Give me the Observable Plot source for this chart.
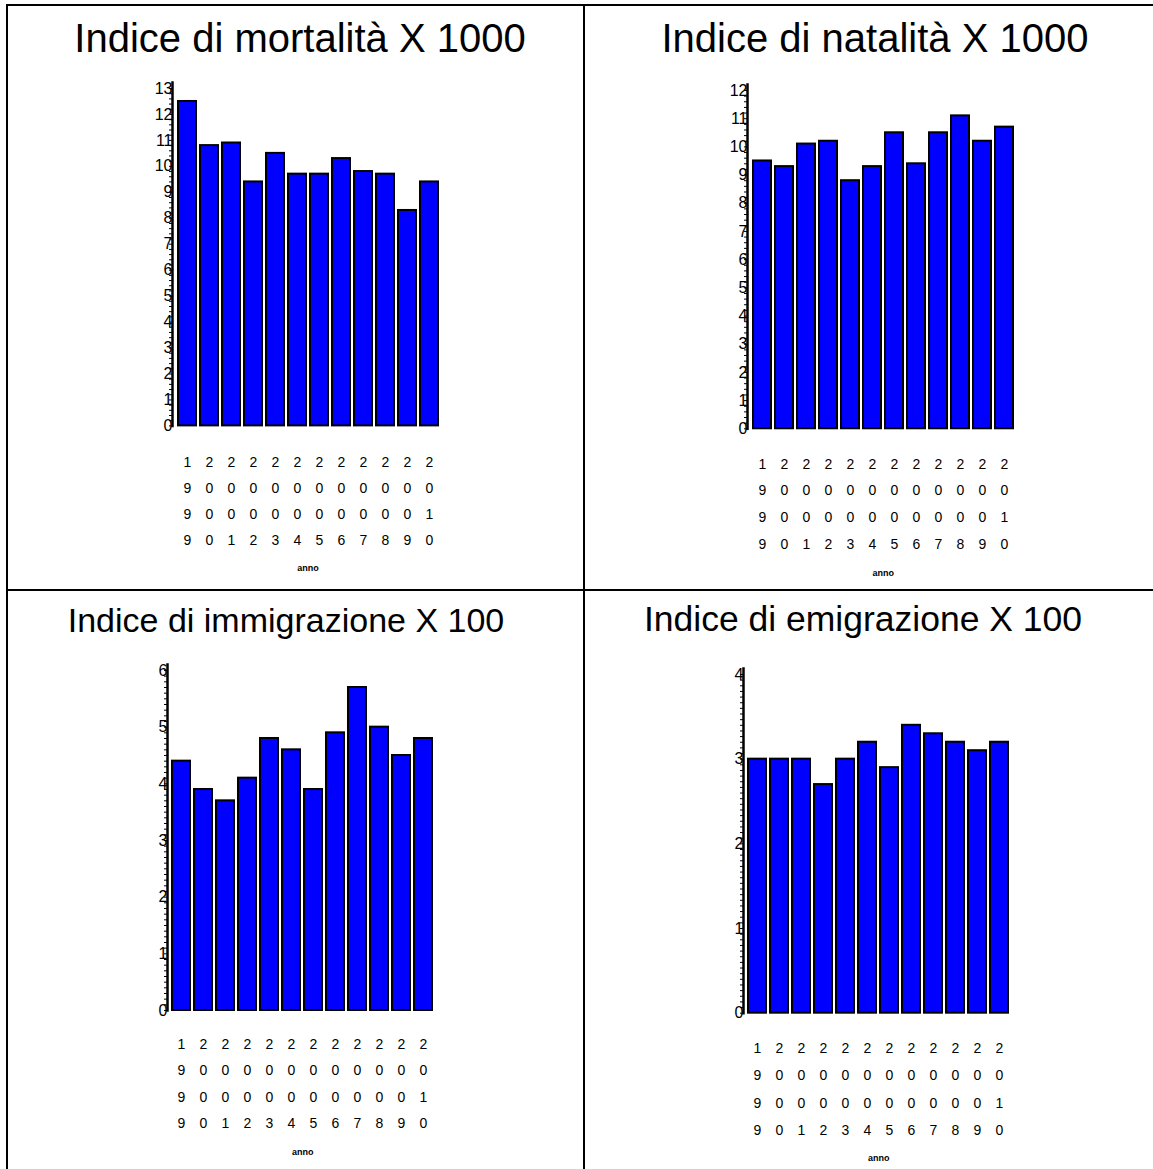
<!DOCTYPE html>
<html>
<head>
<meta charset="utf-8">
<script src="https://cdn.jsdelivr.net/npm/d3@7"></script>
<script src="https://cdn.jsdelivr.net/npm/@observablehq/plot@0.6"></script>
<style>
  html, body { margin: 0; padding: 0; background: #fff; }
  #page { position: relative; width: 1153px; height: 1169px; overflow: hidden; background: #fff;
          font-family: "Liberation Sans", Arial, sans-serif; color: #000; }
  .line { position: absolute; background: #000; }
  .title { position: absolute; white-space: nowrap; line-height: 1; transform: translate(-50%, -50%); }
  .panel { position: absolute; }
</style>
</head>
<body>
<div id="page"></div>
<script>
// ---- data ----
const years = ["1999","2000","2001","2002","2003","2004","2005","2006","2007","2008","2009","2010"];
const mortalita    = [12.5, 10.8, 10.9, 9.4, 10.5, 9.7, 9.7, 10.3, 9.8, 9.7, 8.3, 9.4];
const natalita     = [9.5, 9.3, 10.1, 10.2, 8.8, 9.3, 10.5, 9.4, 10.5, 11.1, 10.2, 10.7];
const immigrazione = [4.4, 3.9, 3.7, 4.1, 4.8, 4.6, 3.9, 4.9, 5.7, 5.0, 4.5, 4.8];
const emigrazione  = [3.0, 3.0, 3.0, 2.7, 3.0, 3.2, 2.9, 3.4, 3.3, 3.2, 3.1, 3.2];
const titles = ["Indice di mortalità X 1000", "Indice di natalità X 1000",
                "Indice di immigrazione X 100", "Indice di emigrazione X 100"];
const yMax = [13, 12, 6, 4];
const xLabel = "anno";

// ---- layout ----
const page = document.getElementById("page");
function line(x, y, w, h) {
  const d = document.createElement("div");
  d.className = "line";
  Object.assign(d.style, {left: x + "px", top: y + "px", width: w + "px", height: h + "px"});
  page.appendChild(d);
}
line(6, 4, 1147, 2);     // top border
line(6, 4, 2, 1165);     // left border
line(583, 4, 2, 1165);   // middle vertical
line(6, 589, 1147, 2);   // middle horizontal

const layouts = [
  {values: mortalita,    tx: 300, ty: 38,  ts: 40,   plotLeft: 171.7, plotRight: 442.7, yTop: 88.3, yZero: 425.7, step: 0.2,    row1: 461.7, rowGap: 25.8, annoY: 568},
  {values: natalita,     tx: 875, ty: 38,  ts: 40,   plotLeft: 746.7, plotRight: 1018.3, yTop: 90,  yZero: 428.3, step: 0.2,    row1: 462,   rowGap: 26.8, annoY: 573},
  {values: immigrazione, tx: 286, ty: 620, ts: 34,   plotLeft: 166.7, plotRight: 437.3, yTop: 670,  yZero: 1010,  step: 0.1,    row1: 1043,  rowGap: 26.3, annoY: 1152},
  {values: emigrazione,  tx: 863, ty: 620, ts: 35.5, plotLeft: 742.7, plotRight: 1013.3, yTop: 674, yZero: 1012.7, step: 1/15,  row1: 1046,  rowGap: 27.4, annoY: 1158}
];

layouts.forEach((L, i) => {
  const t = document.createElement("div");
  t.className = "title";
  t.textContent = titles[i];
  Object.assign(t.style, {left: L.tx + "px", top: L.ty + "px", fontSize: L.ts + "px"});
  page.appendChild(t);

  const mLeft = 50, mTop = 20, mRight = 10;
  const svgLeft = L.plotLeft - mLeft;
  const svgTop = L.yTop - mTop;
  const width = (L.plotRight - L.plotLeft) + mLeft + mRight;
  const height = (L.annoY + 10) - svgTop;
  const mBottom = height - (L.yZero - svgTop);
  const rows = years.map((y, k) => ({year: y, value: L.values[k]}));
  const max = yMax[i];

  const chart = Plot.plot({
    width, height,
    marginLeft: mLeft, marginTop: mTop, marginRight: mRight, marginBottom: mBottom,
    style: {fontFamily: "'Liberation Sans', Arial, sans-serif", background: "transparent", color: "#000", overflow: "visible"},
    x: {domain: years, padding: 0, axis: null},
    y: {domain: [0, max], axis: null},
    marks: [
      Plot.barY(rows, {x: "year", y: "value", fill: "#0000ff", stroke: "#000", strokeWidth: 2, insetLeft: 2, insetRight: 2}),
      Plot.axisY({ticks: d3.range(0, max + 1e-9, L.step), tickSize: 3, tickFormat: () => "", strokeWidth: 1, label: null}),
      Plot.axisY({ticks: d3.range(0, max + 1), tickSize: 0, tickPadding: 0, fontSize: 16, tickFormat: d3.format("d"), label: null}),
      Plot.frame({anchor: "left", strokeWidth: 2.5, insetTop: -6}),
      Plot.axisX({tickSize: 0, tickPadding: L.row1 - L.yZero - 13, fontSize: 14, lineHeight: L.rowGap / 14,
                  tickFormat: d => d.split("").join("\n"), label: null}),
      Plot.text([xLabel], {frameAnchor: "bottom", text: d => d, dy: L.annoY - L.yZero + 3, fontSize: 9, fontWeight: "bold"})
    ]
  });
  const wrap = document.createElement("div");
  wrap.className = "panel";
  Object.assign(wrap.style, {left: svgLeft + "px", top: svgTop + "px"});
  wrap.appendChild(chart);
  page.appendChild(wrap);
});
</script>
</body>
</html>
